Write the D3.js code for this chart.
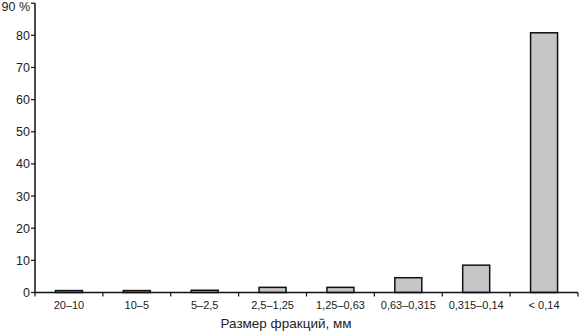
<!DOCTYPE html>
<html>
<head>
<meta charset="utf-8">
<script src="https://cdn.jsdelivr.net/npm/d3@7"></script>
<style>
  body { margin: 0; background: #fff; }
  text { font-family: "Liberation Sans", Arial, sans-serif; fill: #222; }
</style>
</head>
<body>
<div id="canvas"></div>
<script>
"use strict";

/* Data */
let categories = ["20–10", "10–5", "5–2,5", "2,5–1,25", "1,25–0,63", "0,63–0,315", "0,315–0,14", "< 0,14"];
let values = [0.6, 0.6, 0.7, 1.6, 1.6, 4.6, 8.5, 80.8];
let yTicks = [0, 10, 20, 30, 40, 50, 60, 70, 80, 90];
let xTitle = "Размер фракций, мм";

/* Drawing config */
let svgWidth = 579;
let svgHeight = 333;
let plotLeft = 35, plotRight = 578, plotTop = 3.2, plotBottom = 292.5;

let svg = d3.select("#canvas")
  .append("svg")
  .attr("width", svgWidth)
  .attr("height", svgHeight);

let xScale = d3.scaleBand()
  .domain(categories)
  .range([plotLeft, plotRight]);

let yScale = d3.scaleLinear()
  .domain([0, 90])
  .range([plotBottom, plotTop]);

/* Bars */
svg.selectAll("rect.bar")
  .data(values)
  .enter()
  .append("rect")
  .attr("class", "bar")
  .attr("x", function (d, i) { return xScale(categories[i]) + xScale.bandwidth() / 2 - 13.5; })
  .attr("width", 27)
  .attr("y", function (d) { return yScale(d); })
  .attr("height", function (d) { return plotBottom - yScale(d); })
  .attr("fill", "#c6c6c6")
  .attr("stroke", "#111")
  .attr("stroke-width", 1.5);

/* Y axis */
svg.append("line")
  .attr("x1", plotLeft).attr("x2", plotLeft)
  .attr("y1", plotTop).attr("y2", plotBottom)
  .attr("stroke", "#111").attr("stroke-width", 1.5);

for (let i = 0; i < yTicks.length; i = i + 1) {
  let y = yScale(yTicks[i]);
  svg.append("line")
    .attr("x1", plotLeft - 4).attr("x2", plotLeft)
    .attr("y1", y).attr("y2", y)
    .attr("stroke", "#111").attr("stroke-width", 1.2);
  // top label sits a bit lower so it is not cut off
  svg.append("text")
    .attr("x", 30)
    .attr("y", yTicks[i] === 90 ? 6 : y)
    .attr("dy", "0.36em")
    .attr("text-anchor", "end")
    .attr("font-size", "12.5px")
    .text(yTicks[i] === 90 ? "90 %" : String(yTicks[i]));
}

/* X axis */
svg.append("line")
  .attr("x1", plotLeft).attr("x2", plotRight)
  .attr("y1", plotBottom).attr("y2", plotBottom)
  .attr("stroke", "#111").attr("stroke-width", 1.5);

for (let i = 0; i <= categories.length; i = i + 1) {
  let x = i < categories.length ? xScale(categories[i]) : plotRight;
  svg.append("line")
    .attr("x1", x).attr("x2", x)
    .attr("y1", plotBottom).attr("y2", plotBottom + 4)
    .attr("stroke", "#111").attr("stroke-width", 1.2);
}

svg.selectAll("text.xlab")
  .data(categories)
  .enter()
  .append("text")
  .attr("class", "xlab")
  .attr("x", function (d) { return xScale(d) + xScale.bandwidth() / 2; })
  .attr("y", 305.5)
  .attr("dy", "0.36em")
  .attr("text-anchor", "middle")
  .attr("font-size", "11px")
  .text(function (d) { return d; });

svg.append("text")
  .attr("x", 286)
  .attr("y", 323.5)
  .attr("dy", "0.36em")
  .attr("text-anchor", "middle")
  .attr("font-size", "13.5px")
  .text(xTitle);
</script>
</body>
</html>
